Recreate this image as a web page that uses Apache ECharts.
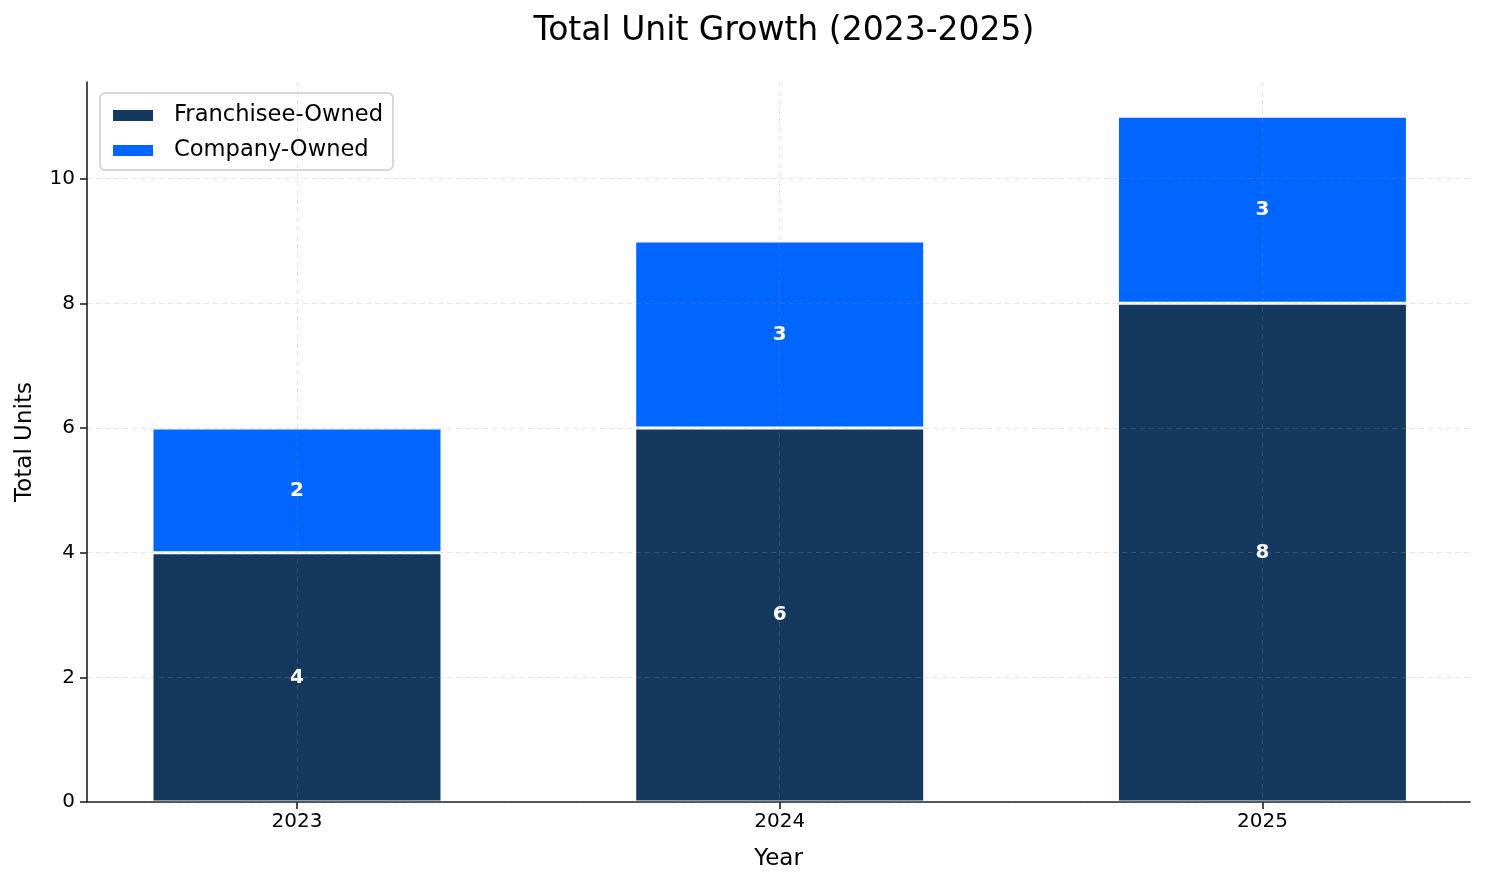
<!DOCTYPE html>
<html>
<head>
<meta charset="utf-8">
<script src="https://cdn.jsdelivr.net/npm/echarts@6/dist/echarts.min.js"></script>
<style>
  html, body { margin: 0; padding: 0; background: #fff; }
  #main { width: 1485px; height: 884px; }
</style>
</head>
<body>
<div id="main"></div>
<script>
var chartDom = document.getElementById('main');
var myChart = echarts.init(chartDom);
var option;

const years = ['2023', '2024', '2025'];
const franchiseeOwned = [4, 6, 8];
const companyOwned = [2, 3, 3];
const yTicks = [0, 2, 4, 6, 8, 10];

const font = 'DejaVu Sans';
const darkColor = '#15385f';
const blueColor = '#0066ff';

// rows are [value, position]; position 0,1,2 on a value x axis
// (value first so the stack runs on y)
function toRows(values) {
  return values.map(function (v, i) { return [v, i]; });
}

const barLabel = {
  show: true,
  position: 'inside',
  color: '#fff',
  fontWeight: 'bold',
  fontSize: 20,
  fontFamily: font,
  formatter: function (p) { return p.value[0]; }
};

option = {
  animation: false,
  textStyle: { fontFamily: font },
  title: {
    text: 'Total Unit Growth (2023-2025)',
    left: 779,
    textAlign: 'center',
    top: 10,
    textStyle: { fontFamily: font, fontSize: 33, fontWeight: 'normal', color: '#000' }
  },
  legend: {
    orient: 'vertical',
    left: 100,
    top: 93,
    padding: [11, 10, 8, 11],
    itemWidth: 42,
    itemHeight: 13,
    itemGap: 12,
    icon: 'rect',
    borderColor: '#cccccc',
    borderWidth: 1.5,
    borderRadius: 5,
    backgroundColor: 'rgba(255,255,255,0.8)',
    textStyle: { fontFamily: font, fontSize: 22.6, color: '#000', padding: [0, 0, 0, 15] },
    data: ['Franchisee-Owned', 'Company-Owned']
  },
  grid: {
    left: 87,
    right: 15,
    top: 82,
    bottom: 82
  },
  xAxis: {
    type: 'value',
    min: -0.435,
    max: 2.43,
    z: 5,
    name: 'Year',
    nameLocation: 'middle',
    nameGap: 46,
    nameTextStyle: { fontFamily: font, fontSize: 23, color: '#000' },
    axisLine: { show: true, onZero: false, lineStyle: { color: '#222', width: 1.6 } },
    axisTick: { show: true, customValues: [0, 1, 2], length: 7, lineStyle: { color: '#222', width: 1.6 } },
    axisLabel: {
      customValues: [0, 1, 2],
      fontFamily: font,
      fontSize: 20,
      color: '#000',
      margin: 10,
      formatter: function (v) { return years[Math.round(v)]; }
    },
    splitLine: {
      show: true,
      lineStyle: { color: 'rgba(157,157,157,0.25)', type: [5, 4], width: 1 }
    }
  },
  yAxis: {
    type: 'value',
    min: 0,
    max: 11.55,
    z: 5,
    name: 'Total Units',
    nameLocation: 'middle',
    nameGap: 50,
    nameTextStyle: { fontFamily: font, fontSize: 23, color: '#000' },
    axisLine: { show: true, onZero: false, lineStyle: { color: '#222', width: 1.6 } },
    axisTick: { show: true, customValues: yTicks, length: 7, lineStyle: { color: '#222', width: 1.6 } },
    axisLabel: {
      customValues: yTicks,
      fontFamily: font,
      fontSize: 20,
      color: '#000',
      margin: 12
    },
    splitLine: {
      show: true,
      lineStyle: { color: 'rgba(157,157,157,0.25)', type: [5, 4], width: 1 }
    }
  },
  series: [
    {
      name: 'Franchisee-Owned',
      type: 'bar',
      stack: 'units',
      barWidth: 290,
      encode: { x: 1, y: 0 },
      data: toRows(franchiseeOwned),
      itemStyle: { color: darkColor, borderColor: '#fff', borderWidth: 1.5 },
      label: barLabel
    },
    {
      name: 'Company-Owned',
      type: 'bar',
      stack: 'units',
      barWidth: 290,
      encode: { x: 1, y: 0 },
      data: toRows(companyOwned),
      itemStyle: { color: blueColor, borderColor: '#fff', borderWidth: 1.5 },
      label: barLabel
    }
  ]
};

option && myChart.setOption(option);
</script>
</body>
</html>
